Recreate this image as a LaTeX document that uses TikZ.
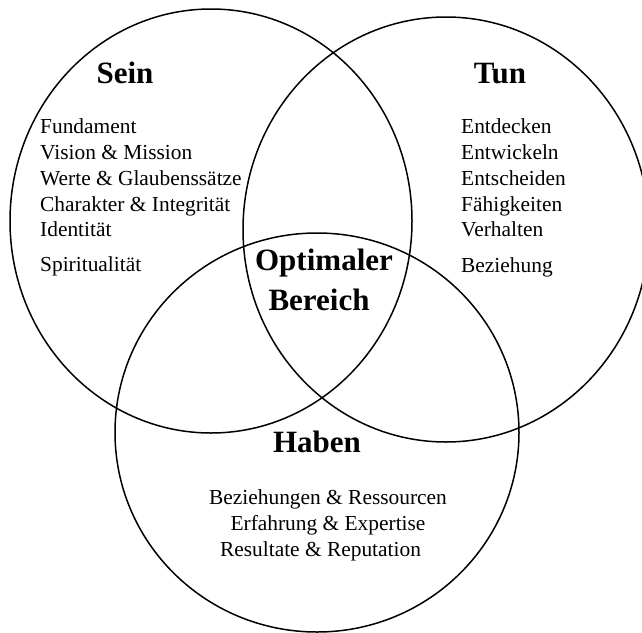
\documentclass[tikz,border=0pt]{standalone}
\usepackage{fontspec}
\setmainfont{Liberation Serif}
\begin{document}
\begin{tikzpicture}[x=1pt,y=-1pt,
  ring/.style={draw=black,line width=1.5pt},
  title/.style={font=\fontsize{31}{36}\selectfont\bfseries,inner sep=0pt},
  item/.style={font=\fontsize{21.4}{25}\selectfont,inner sep=0pt},
  ]
\useasboundingbox (0,0) rectangle (642,632);
\clip (0,0) rectangle (642,632);
\draw[ring] (211,221) ellipse [x radius=201, y radius=212];
\draw[ring] (446,229.5) ellipse [x radius=203, y radius=212.5];
\draw[ring] (317,432.5) ellipse [x radius=202, y radius=199.5];

\node[title,anchor=base] (sein) at (125,83) {Sein};
\node[title,anchor=base] (tun) at (500,83) {Tun};
\node[title,anchor=base] (haben) at (317,452) {Haben};
\node[title,anchor=base] (opt1) at (324,270) {Optimaler};
\node[title,anchor=base] (opt2) at (319,310) {Bereich};

\node[item,anchor=base west] (s1) at (40,133) {Fundament};
\node[item,anchor=base west] (s2) at (40,159) {Vision \& Mission};
\node[item,anchor=base west] (s3) at (40,185) {Werte \& Glaubenssätze};
\node[item,anchor=base west] (s4) at (40,211) {Charakter \& Integrität};
\node[item,anchor=base west] (s5) at (40,236) {Identität};
\node[item,anchor=base west] (s6) at (40,271) {Spiritualität};

\node[item,anchor=base west] (t1) at (461,133) {Entdecken};
\node[item,anchor=base west] (t2) at (461,159) {Entwickeln};
\node[item,anchor=base west] (t3) at (461,185) {Entscheiden};
\node[item,anchor=base west] (t4) at (461,211) {Fähigkeiten};
\node[item,anchor=base west] (t5) at (461,236) {Verhalten};
\node[item,anchor=base west] (t6) at (461,272) {Beziehung};

\node[item,anchor=base] (h1) at (328,504) {Beziehungen \& Ressourcen};
\node[item,anchor=base] (h2) at (328,530) {Erfahrung \& Expertise};
\node[item,anchor=base] (h3) at (320.5,556) {Resultate \& Reputation};
\end{tikzpicture}
\end{document}
